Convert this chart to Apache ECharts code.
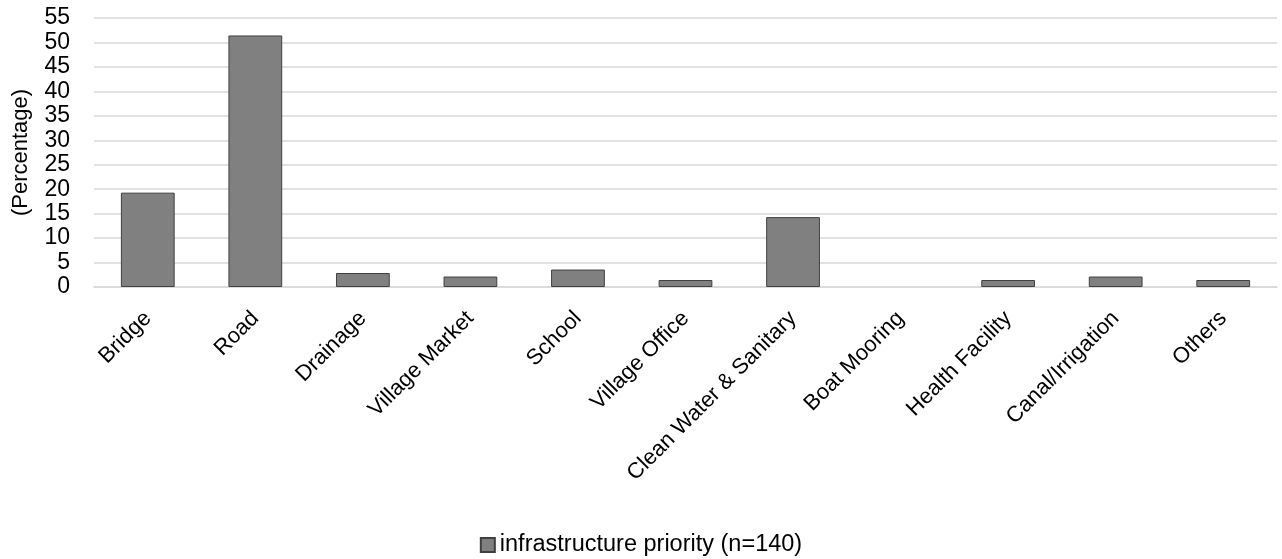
<!DOCTYPE html>
<html lang="en">
<head>
	<meta charset="UTF-8">
	<title>Infrastructure priority</title>
	<style>
		html, body { margin: 0; padding: 0; background: #fff; }
		#main { width: 1282px; height: 559px; }
	</style>
	<script src="https://cdn.jsdelivr.net/npm/echarts@6/dist/echarts.min.js"></script>
</head>
<body>
<div id="main"></div>
<script type="text/javascript">
	// data (share of 140 respondents, %)
	var categories = ['Bridge', 'Road', 'Drainage', 'Village Market', 'School', 'Village Office',
		'Clean Water & Sanitary', 'Boat Mooring', 'Health Facility', 'Canal/Irrigation', 'Others'];
	var priority = [19.29, 51.43, 2.86, 2.14, 3.57, 1.43, 14.29, 0, 1.43, 2.14, 1.43];
	var seriesName = 'infrastructure priority (n=140)';
	var yTicks = [0, 55, 5];

	var font = '"Liberation Sans", "DejaVu Sans", sans-serif';
	var myChart = echarts.init(document.getElementById('main'));

	// zero bars get no outline, like the original
	var barData = priority.map(function (v) {
		return v === 0 ? { value: v, itemStyle: { borderWidth: 0 } } : v;
	});

	var option = {
		animation: false,
		textStyle: { fontFamily: font },
		grid: { left: 94, right: 5, top: 18, bottom: 272, outerBoundsMode: 'none', containLabel: false },
		legend: {
			data: [seriesName],
			top: 528,
			left: 'center',
			icon: 'rect',
			itemWidth: 14,
			itemHeight: 14,
			itemGap: 5,
			textStyle: { fontSize: 23.5, color: '#000', fontFamily: font }
		},
		xAxis: {
			type: 'category',
			data: categories,
			axisLine: { show: true, lineStyle: { color: '#d9d9d9', width: 1.5 } },
			axisTick: { show: false },
			axisLabel: {
				rotate: 45,
				interval: 0,
				fontSize: 22,
				color: '#000',
				margin: 28
			}
		},
		yAxis: {
			type: 'value',
			min: yTicks[0],
			max: yTicks[1],
			interval: yTicks[2],
			name: '(Percentage)',
			nameLocation: 'middle',
			nameRotate: 90,
			nameGap: 62,
			nameTextStyle: { fontSize: 22, color: '#000' },
			axisLine: { show: false },
			axisTick: { show: false },
			axisLabel: { fontSize: 23, color: '#000', margin: 24 },
			splitLine: { lineStyle: { color: '#d9d9d9', width: 1.5 } }
		},
		series: [{
			name: seriesName,
			type: 'bar',
			data: barData,
			barWidth: '50%',
			itemStyle: {
				color: '#808080',
				borderColor: '#404040',
				borderWidth: 1
			}
		}]
	};

	myChart.setOption(option);
</script>
</body>
</html>
